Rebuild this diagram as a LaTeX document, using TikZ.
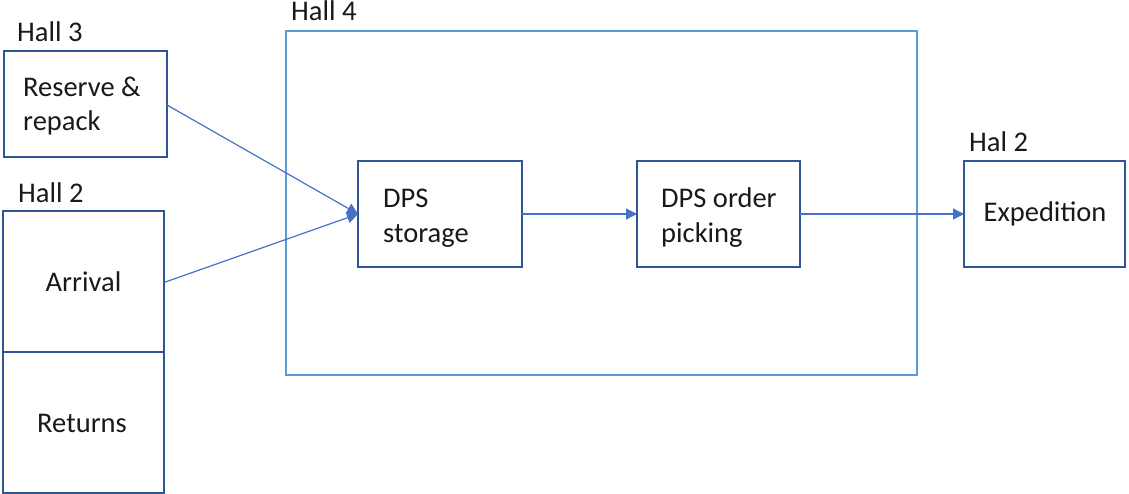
\documentclass[tikz,border=0pt]{standalone}
\usepackage{fontspec}
\setmainfont{Carlito}
\usetikzlibrary{arrows.meta}
\definecolor{boxblue}{HTML}{2F5597}
\definecolor{hallblue}{HTML}{5B9BD5}
\definecolor{flowblue}{HTML}{4472C4}
\tikzset{
  box/.style={draw=boxblue, line width=2pt, rectangle, inner sep=0pt, outer sep=0pt, anchor=north west},
  hallbox/.style={draw=hallblue, line width=2pt, rectangle, inner sep=0pt, outer sep=0pt, anchor=north west},
  txt/.style={font=\fontsize{28.5}{34}\selectfont, inner sep=0pt, text=black!90},
  flow/.style={draw=flowblue, line width=1.2pt, -{Triangle[length=11pt,width=11pt]}}
}
\begin{document}
\begin{tikzpicture}[x=1pt,y=-1pt]
  \useasboundingbox (0,0) rectangle (1129,494);

  % Hall 4 enclosure
  \node[hallbox, minimum width=631pt, minimum height=344pt] (hall4) at (286,31) {};
  \node[txt, anchor=base west] (hall4lbl) at (291,21) {Hall 4};

  % Hall 3
  \node[txt, anchor=base west] (hall3lbl) at (17,42) {Hall 3};
  \node[box, minimum width=163pt, minimum height=106pt] (reserve) at (4,51) {};
  \node[txt, anchor=base west] (reserveA) at (23,97) {Reserve \&};
  \node[txt, anchor=base west] (reserveB) at (23,131) {repack};

  % Hall 2 (incoming)
  \node[txt, anchor=base west] (hall2lbl) at (18,203) {Hall 2};
  \node[box, minimum width=161pt, minimum height=141pt] (arrival) at (3,211) {};
  \node[box, minimum width=161pt, minimum height=141pt] (returns) at (3,352) {};
  \node[txt, anchor=base] (arrivaltxt) at (83.5,291) {Arrival};
  \node[txt, anchor=base] (returnstxt) at (82,432) {Returns};

  % DPS process steps
  \node[box, minimum width=164pt, minimum height=106pt] (storage) at (358,161) {};
  \node[txt, anchor=base west] (storageA) at (383,208) {DPS};
  \node[txt, anchor=base west] (storageB) at (383,243) {storage};

  \node[box, minimum width=163pt, minimum height=106pt] (picking) at (637,161) {};
  \node[txt, anchor=base west] (pickingA) at (661,208) {DPS order};
  \node[txt, anchor=base west] (pickingB) at (661,243) {picking};

  % Hal 2 (outgoing)
  \node[txt, anchor=base west] (hal2lbl) at (969,152) {Hal 2};
  \node[box, minimum width=161pt, minimum height=106pt] (expedition) at (964,161) {};
  \node[txt, anchor=base] (expeditiontxt) at (1045,222) {Expedition};

  % Flows
  \coordinate (inR) at ([yshift=-1pt]reserve.east);
  \coordinate (inA) at ([yshift=-1pt]arrival.east);
  \draw[flow] (inR) -- (storage.west);
  \draw[flow] (inA) -- (storage.west);
  \draw[flow] (storage.east) -- (picking.west);
  \draw[flow] (picking.east) -- (expedition.west);
\end{tikzpicture}
\end{document}
